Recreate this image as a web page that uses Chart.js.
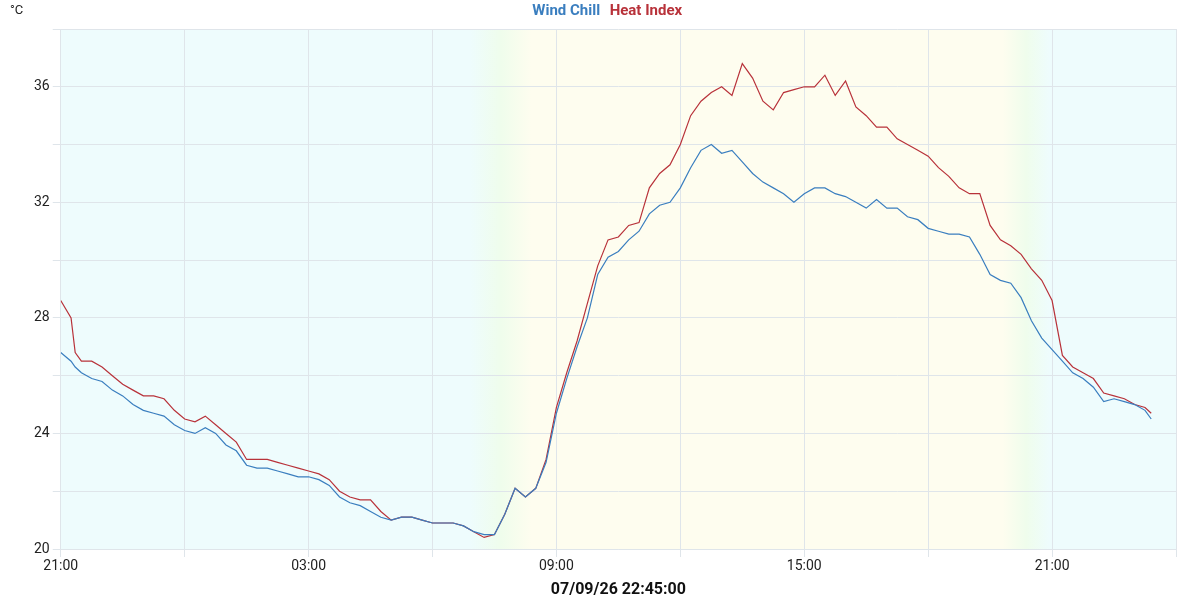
<!DOCTYPE html>
<html>
<head>
<meta charset="utf-8">
<script src="https://cdn.jsdelivr.net/npm/chart.js@4"></script>
<style>
  body { margin: 0; background: #fff; }
  #wrap { position: relative; width: 1200px; height: 600px; }
  #unit { position: absolute; left: 10px; top: 2px; font: 13px Roboto, sans-serif; color: #222; }
</style>
</head>
<body>
<div id="wrap">
  <div id="unit">°C</div>
  <canvas id="chart" width="1200" height="600"></canvas>
</div>
<script>
// hours since 21:00 of the previous day
const hours = [0, 0.25, 0.35, 0.5, 0.75, 1, 1.25, 1.5, 1.75, 2, 2.25, 2.5, 2.75, 3, 3.25, 3.5, 3.75, 4, 4.25, 4.5, 4.75, 5, 5.25, 5.5, 5.75, 6, 6.25, 6.5, 6.75, 7, 7.25, 7.5, 7.75, 8, 8.25, 8.5, 8.75, 9, 9.25, 9.5, 9.75, 10, 10.25, 10.5, 10.75, 11, 11.25, 11.5, 11.75, 12, 12.25, 12.5, 12.75, 13, 13.25, 13.5, 13.75, 14, 14.25, 14.5, 14.75, 15, 15.25, 15.5, 15.75, 16, 16.25, 16.5, 16.75, 17, 17.25, 17.5, 17.75, 18, 18.25, 18.5, 18.75, 19, 19.25, 19.5, 19.75, 20, 20.25, 20.5, 20.75, 21, 21.25, 21.5, 21.75, 22, 22.25, 22.5, 22.75, 23, 23.25, 23.5, 23.75, 24, 24.25, 24.5, 24.75, 25, 25.25, 25.5, 25.75, 26, 26.25, 26.4];

const windChill = [26.8, 26.5, 26.3, 26.1, 25.9, 25.8, 25.5, 25.3, 25.0, 24.8, 24.7, 24.6, 24.3, 24.1, 24.0, 24.2, 24.0, 23.6, 23.4, 22.9, 22.8, 22.8, 22.7, 22.6, 22.5, 22.5, 22.4, 22.2, 21.8, 21.6, 21.5, 21.3, 21.1, 21.0, 21.1, 21.1, 21.0, 20.9, 20.9, 20.9, 20.8, 20.6, 20.5, 20.5, 21.2, 22.1, 21.8, 22.1, 23.0, 24.7, 25.9, 27.0, 28.0, 29.5, 30.1, 30.3, 30.7, 31.0, 31.6, 31.9, 32.0, 32.5, 33.2, 33.8, 34.0, 33.7, 33.8, 33.4, 33.0, 32.7, 32.5, 32.3, 32.0, 32.3, 32.5, 32.5, 32.3, 32.2, 32.0, 31.8, 32.1, 31.8, 31.8, 31.5, 31.4, 31.1, 31.0, 30.9, 30.9, 30.8, 30.2, 29.5, 29.3, 29.2, 28.7, 27.9, 27.3, 26.9, 26.5, 26.1, 25.9, 25.6, 25.1, 25.2, 25.1, 25.0, 24.8, 24.5];

const heatIndex = [28.6, 28.0, 26.8, 26.5, 26.5, 26.3, 26.0, 25.7, 25.5, 25.3, 25.3, 25.2, 24.8, 24.5, 24.4, 24.6, 24.3, 24.0, 23.7, 23.1, 23.1, 23.1, 23.0, 22.9, 22.8, 22.7, 22.6, 22.4, 22.0, 21.8, 21.7, 21.7, 21.3, 21.0, 21.1, 21.1, 21.0, 20.9, 20.9, 20.9, 20.8, 20.6, 20.4, 20.5, 21.2, 22.1, 21.8, 22.1, 23.1, 24.9, 26.1, 27.2, 28.5, 29.8, 30.7, 30.8, 31.2, 31.3, 32.5, 33.0, 33.3, 34.0, 35.0, 35.5, 35.8, 36.0, 35.7, 36.8, 36.3, 35.5, 35.2, 35.8, 35.9, 36.0, 36.0, 36.4, 35.7, 36.2, 35.3, 35.0, 34.6, 34.6, 34.2, 34.0, 33.8, 33.6, 33.2, 32.9, 32.5, 32.3, 32.3, 31.2, 30.7, 30.5, 30.2, 29.7, 29.3, 28.6, 26.7, 26.3, 26.1, 25.9, 25.4, 25.3, 25.2, 25.0, 24.9, 24.7];

const dateLabel = '07/09/26 22:45:00';
const sunrise = [9.9, 11.4];
const sunset = [22.8, 23.95];

const dayNight = {
  id: 'dayNight',
  beforeDatasetsDraw(chart) {
    const { ctx, chartArea: a, scales: { x } } = chart;
    const r0 = x.getPixelForValue(sunrise[0]), r1 = x.getPixelForValue(sunrise[1]);
    const s0 = x.getPixelForValue(sunset[0]), s1 = x.getPixelForValue(sunset[1]);
    const g = ctx.createLinearGradient(a.left, 0, a.right, 0);
    const w = a.right - a.left, f = p => Math.min(1, Math.max(0, (p - a.left) / w));
    g.addColorStop(0, '#eefcfd');
    g.addColorStop(f(r0), '#eefcfd');
    g.addColorStop(f((r0 + r1) / 2), '#effdec');
    g.addColorStop(f(r1), '#fefdef');
    g.addColorStop(f(s0), '#fefdef');
    g.addColorStop(f((s0 + s1) / 2), '#effdec');
    g.addColorStop(f(s1), '#eefcfd');
    g.addColorStop(1, '#eefcfd');
    ctx.save();
    ctx.globalCompositeOperation = 'destination-over';
    ctx.fillStyle = g;
    ctx.fillRect(a.left, a.top, w, a.bottom - a.top);
    ctx.restore();
  }
};

const pad = n => String(n).padStart(2, '0');

new Chart(document.getElementById('chart'), {
  type: 'line',
  data: {
    datasets: [
      { label: 'Wind Chill', data: hours.map((h, i) => ({ x: h, y: windChill[i] })), borderColor: '#3a7ebf', borderWidth: 1.2, pointRadius: 0, tension: 0 },
      { label: 'Heat Index', data: hours.map((h, i) => ({ x: h, y: heatIndex[i] })), borderColor: '#b8323a', borderWidth: 1.2, pointRadius: 0, tension: 0 }
    ]
  },
  plugins: [dayNight],
  options: {
    responsive: false,
    animation: false,
    layout: { padding: { left: 31, right: 24, top: 2, bottom: 0 } },
    plugins: {
      tooltip: { enabled: false },
      legend: {
        labels: {
          boxWidth: 0, boxHeight: 0, padding: 2,
          font: { family: 'Roboto', size: 15, weight: 'bold' },
          generateLabels: chart => chart.data.datasets.map((d, i) => ({
            text: d.label, fontColor: d.borderColor, fillStyle: 'transparent', strokeStyle: 'transparent', lineWidth: 0, datasetIndex: i
          }))
        }
      }
    },
    scales: {
      x: {
        type: 'linear', min: 0, max: 27,
        grid: { color: '#dfe5ea' },
        border: { color: '#dfe5ea' },
        ticks: {
          stepSize: 3, maxRotation: 0, autoSkip: false, color: '#222', padding: 1,
          font: { family: 'Roboto', size: 14 },
          callback: v => (v % 6 === 0 && v < 27) ? pad((21 + v) % 24) + ':00' : ''
        },
        title: { display: true, text: dateLabel, color: '#111', font: { family: 'Roboto', size: 16, weight: 'bold' }, padding: { top: 5, bottom: 0 } }
      },
      y: {
        min: 20, max: 38,
        grid: { color: '#dfe5ea' },
        border: { color: '#dfe5ea' },
        ticks: {
          stepSize: 2, color: '#222',
          font: { family: 'Roboto', size: 14 },
          callback: v => v % 4 === 0 && v < 38 ? v : ''
        }
      }
    }
  }
});
</script>
</body>
</html>
